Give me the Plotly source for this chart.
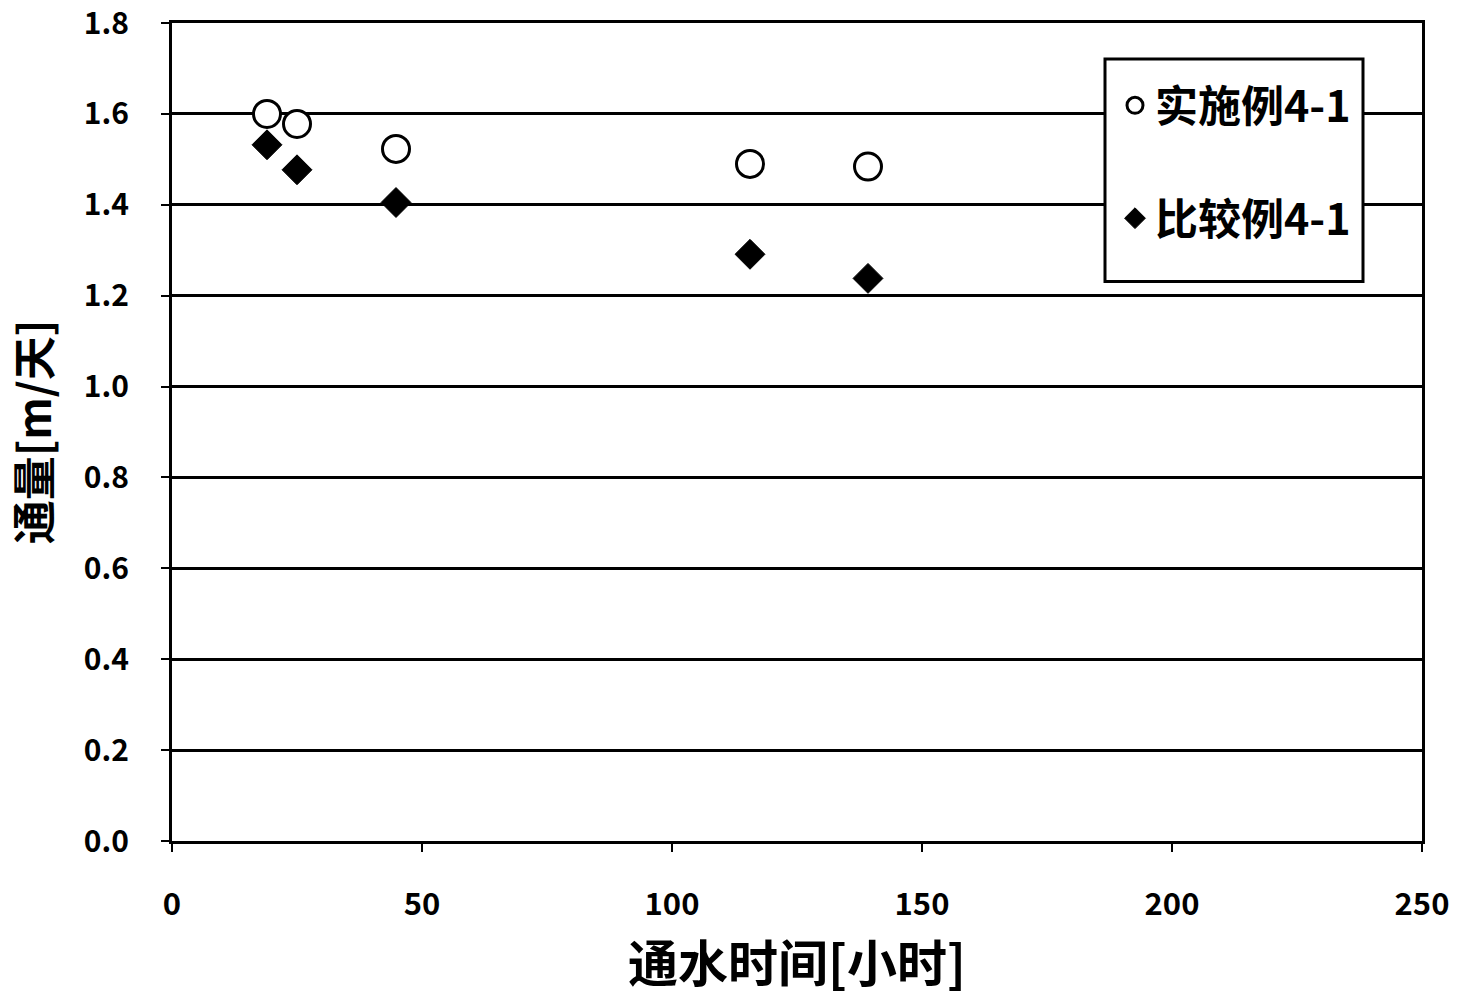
import plotly.graph_objects as go

# Data
hours_example = [19, 25, 44.8, 115.6, 139.2]
flux_example = [1.600, 1.578, 1.523, 1.490, 1.484]
hours_compare = [19, 25, 44.8, 115.6, 139.2]
flux_compare = [1.532, 1.477, 1.405, 1.291, 1.238]
name_example = "实施例4-1"
name_compare = "比较例4-1"
x_ticks = [0, 50, 100, 150, 200, 250]
y_ticks = [0.0, 0.2, 0.4, 0.6, 0.8, 1.0, 1.2, 1.4, 1.6, 1.8]

FONT = "Noto Sans CJK SC"

fig = go.Figure()
fig.add_trace(go.Scatter(
    x=hours_example, y=flux_example, mode="markers", name=name_example,
    legendgroup="a",
    marker=dict(symbol="circle", size=27, color="white",
                line=dict(color="black", width=3)),
))
fig.add_trace(go.Scatter(
    x=hours_compare, y=flux_compare, mode="markers", name=name_compare,
    legendgroup="b",
    marker=dict(symbol="diamond", size=23, color="black",
                line=dict(color="black", width=1)),
))

# legend frame
fig.add_shape(type="rect", xref="paper", yref="paper",
              x0=0.7464, x1=0.9528, y0=0.684, y1=0.956,
              fillcolor="white", line=dict(color="black", width=3),
              layer="above")

fig.update_layout(
    width=1457, height=997,
    margin=dict(l=172, r=35, t=23, b=156, autoexpand=False),
    paper_bgcolor="white", plot_bgcolor="white",
    font=dict(family=FONT, color="black", weight="bold"),
    showlegend=True,
    legend=dict(
        x=0.7544, y=0.9415, xanchor="left", yanchor="top",
        bgcolor="rgba(0,0,0,0)", borderwidth=0,
        font=dict(family=FONT, size=43, color="black", weight="bold"),
        traceorder="grouped", tracegroupgap=54,
        itemwidth=30,
    ),
    xaxis=dict(
        range=[0, 250], tickvals=x_ticks,
        ticktext=[str(v) for v in x_ticks],
        showgrid=False, zeroline=False, automargin=False,
        showline=True, linecolor="black", linewidth=3, mirror=True,
        ticks="outside", ticklen=8, tickwidth=2, tickcolor="black",
        ticklabelstandoff=26, ticklabeloverflow="allow",
        tickfont=dict(family=FONT, size=31, weight="bold"),
        title=dict(text="通水时间[小时]", standoff=24,
                   font=dict(family=FONT, size=50, weight="bold")),
    ),
    yaxis=dict(
        range=[0, 1.8], tickvals=y_ticks,
        ticktext=[f"{v:.1f}" for v in y_ticks],
        showgrid=True, gridcolor="black", gridwidth=3, automargin=False,
        zeroline=True, zerolinecolor="black", zerolinewidth=3,
        showline=True, linecolor="black", linewidth=3, mirror=True,
        ticks="outside", ticklen=8, tickwidth=2, tickcolor="black",
        ticklabelstandoff=26, ticklabeloverflow="allow",
        tickfont=dict(family=FONT, size=30, weight="bold"),
        title=dict(text="通量[m/天]", standoff=38,
                   font=dict(family=FONT, size=44, weight="bold")),
    ),
)

fig.write_html("out.html", config={"displayModeBar": False},
               post_script="document.body.style.margin='0';")
